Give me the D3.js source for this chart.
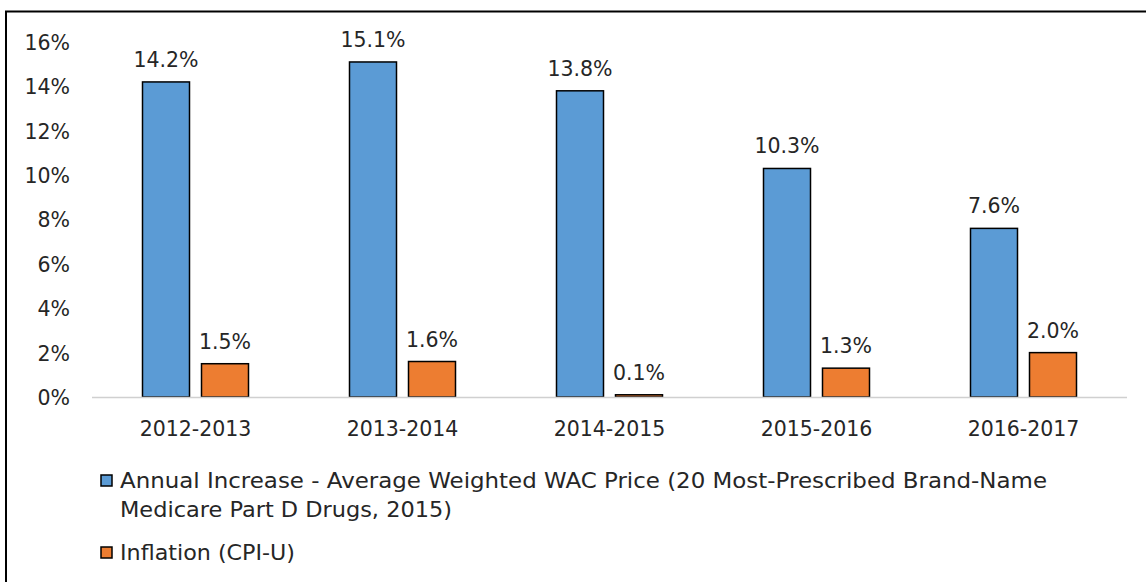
<!DOCTYPE html>
<html><head><meta charset="utf-8">
<script src="https://cdn.jsdelivr.net/npm/d3@7"></script>
<style>body{margin:0;background:#fff}svg{display:block}text{font-family:"DejaVu Sans",sans-serif;fill:#262626}</style>
</head><body>
<script>
const categories = ["2012-2013","2013-2014","2014-2015","2015-2016","2016-2017"];
const wacIncrease = [14.2, 15.1, 13.8, 10.3, 7.6];
const inflation = [1.5, 1.6, 0.1, 1.3, 2.0];
const seriesNames = ["Annual Increase - Average Weighted WAC Price (20 Most-Prescribed Brand-Name", "Inflation (CPI-U)"];
const seriesColors = ["#5B9BD5", "#ED7D31"];
const yTicks = [0, 2, 4, 6, 8, 10, 12, 14, 16];

const W = 1146, H = 582;
const FONT = '"DejaVu Sans",sans-serif';
const FS = 20.5;
const svg = d3.select("body").append("svg").attr("width", W).attr("height", H);

// outer frame
svg.append("path").attr("d", `M6,${H} L6,11.5 L${W},11.5`).attr("fill","none").attr("stroke","#000").attr("stroke-width",2);

const x0 = d3.scaleBand().domain(categories).range([92, 1127]);
const y = d3.scaleLinear().domain([0, 16]).range([397, 42]);
const barW = 47, gap = 12;

const yAxis = svg.append("g").attr("transform","translate(70,0)")
  .call(d3.axisLeft(y).tickValues(yTicks).tickFormat(d => d + "%").tickSize(0).tickPadding(0));
yAxis.select(".domain").remove();
yAxis.selectAll("text").attr("font-size", FS).attr("fill","#262626").attr("dy","0.36em")
  .style("font-family",FONT);

const series = [wacIncrease, inflation];
series.forEach((vals, s) => {
  const g = svg.append("g");
  const xo = d => x0(d) + x0.bandwidth()/2 + (s === 0 ? -gap/2 - barW : gap/2);
  g.selectAll("rect").data(categories).join("rect")
    .attr("x", (d) => xo(d))
    .attr("y", (d,i) => y(vals[i]))
    .attr("width", barW)
    .attr("height", (d,i) => y(0) - y(vals[i]))
    .attr("fill", seriesColors[s]).attr("stroke","#000").attr("stroke-width",1.5);
  g.selectAll("text").data(categories).join("text")
    .attr("x", d => xo(d) + barW/2)
    .attr("y", (d,i) => y(vals[i]) - 15)
    .attr("text-anchor","middle").attr("font-size",FS)
    .text((d,i) => vals[i].toFixed(1) + "%");
});

// baseline
svg.append("line").attr("x1",92).attr("x2",1127).attr("y1",y(0)+0.5).attr("y2",y(0)+0.5)
  .attr("stroke","#d0d0d0").attr("stroke-width",1.5);

const xAxis = svg.append("g").attr("transform",`translate(0,${y(0)})`)
  .call(d3.axisBottom(x0).tickSize(0).tickPadding(24));
xAxis.select(".domain").remove();
xAxis.selectAll("text").attr("font-size",FS).attr("fill","#262626")
  .style("font-family",FONT);

// legend
const leg = [
  {y: 481, lines: [seriesNames[0], "Medicare Part D Drugs, 2015)"], widths: [927, 332]},
  {y: 553, lines: [seriesNames[1]], widths: [175]}
];
leg.forEach((L, i) => {
  svg.append("rect").attr("x",101).attr("y",L.y-6).attr("width",11).attr("height",11)
    .attr("fill",seriesColors[i]).attr("stroke","#000").attr("stroke-width",1.5);
  L.lines.forEach((t, j) => {
    svg.append("text").attr("x",120).attr("y",L.y + 7 + j*29).attr("font-size",FS)
      .attr("textLength", L.widths[j]).attr("lengthAdjust","spacingAndGlyphs").text(t);
  });
});
</script>
</body></html>
